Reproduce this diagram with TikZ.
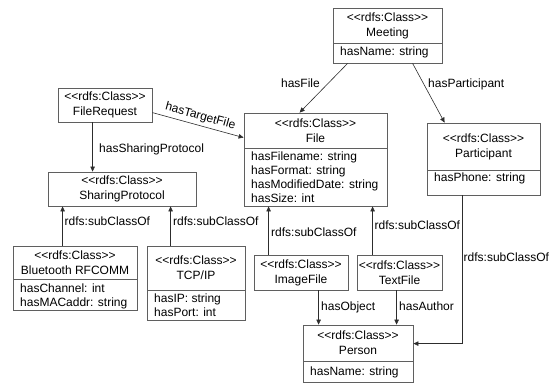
\documentclass[tikz,border=0pt]{standalone}
\usepackage{fontspec}
\newfontfamily\umlfont{Liberation Sans}
\usetikzlibrary{arrows.meta,calc,fit}

\definecolor{boxgray}{RGB}{95,95,95}
\definecolor{conngray}{RGB}{45,45,45}

\tikzset{
  clsbox/.style={draw=boxgray, line width=0.8pt, inner sep=0pt},
  sepline/.style={draw=boxgray, line width=0.8pt},
  hdr/.style={font=\umlfont\fontsize{12}{15}\selectfont, align=center, inner sep=0pt},
  attr/.style={font=\umlfont\fontsize{12}{14}\selectfont, anchor=base west, inner sep=0pt},
  conn/.style={draw=conngray, line width=0.6pt, -{Triangle[length=5pt,width=4.5pt]}},
  lbl/.style={font=\umlfont\fontsize{12}{14}\selectfont, inner sep=0pt},
}

% class box with a header and an attribute compartment:
% name, left, top, right, bottom, separator y, first attribute baseline, class name, attributes
\newcommand{\umlclass}[9]{%
  \node[clsbox, fit={(#2,#3) (#4,#5)}] (#1) {};
  \draw[sepline] (#2,#6) -- (#4,#6);
  \node[hdr] (#1-title) at ({(#2+#4)/2},{(#3+#6)/2}) {<{}<rdfs:Class>{}>\\#8};
  \foreach \attrline [count=\n] in {#9} {
    \node[attr] (#1-attr-\n) at ({#2+7},{#7+14*(\n-1)}) {\attrline};
  }%
}
% class box with a header only: name, left, top, right, bottom, class name
\newcommand{\umlplain}[6]{%
  \node[clsbox, fit={(#2,#3) (#4,#5)}] (#1) {};
  \node[hdr] (#1-title) at ({(#2+#4)/2},{(#3+#5)/2}) {<{}<rdfs:Class>{}>\\#6};
}

\begin{document}
\begin{tikzpicture}[x=1pt,y=-1pt]
\useasboundingbox (0,0) rectangle (553,383);

% classes
\umlclass{meeting}{333}{8}{442}{63}{43}{55.5}{Meeting}{hasName: string}
\umlplain{filerequest}{58}{88}{152}{122}{FileRequest}
\umlclass{file}{244}{113}{387}{206}{148}{160}{File}{hasFilename: string, hasFormat: string, hasModifiedDate: string, hasSize: int}
\umlplain{sharing}{48}{172}{196}{206}{SharingProtocol}
\umlclass{participant}{427}{123}{540}{195}{170}{181}{Participant}{hasPhone: string}
\umlclass{bluetooth}{13}{246}{137}{310}{279}{292}{Bluetooth RFCOMM}{hasChannel: int, hasMACaddr: string}
\umlclass{tcpip}{147}{246}{245}{320}{290}{302}{TCP/IP}{hasIP: string, hasPort: int}
\umlplain{imagefile}{254}{255}{348}{290}{ImageFile}
\umlplain{textfile}{357}{255}{442}{290}{TextFile}
\umlclass{person}{303}{325}{413}{382}{361}{375}{Person}{hasName: string}

% properties
\draw[conn] ($(meeting.south west)+(15,0)$) -- ($(file.north west)+(56,0)$);
\node[lbl, anchor=base east] (l-hasfile) at (320,87.5) {hasFile};

\draw[conn] ($(meeting.south west)+(80,0)$) -- ($(participant.north west)+(18,0)$);
\node[lbl, anchor=base west] (l-haspart) at (428,87.5) {hasParticipant};

\draw[conn] ($(filerequest.north east)+(0,25)$) -- node[lbl, sloped, above, inner sep=3pt] (l-target) {hasTargetFile} ($(file.north west)+(0,25)$);

\draw[conn] ($(filerequest.south west)+(35,0)$) -- ($(sharing.north west)+(45,0)$);
\node[lbl, anchor=base west] (l-sharing) at (99,152.5) {hasSharingProtocol};

\draw[conn] ($(imagefile.south west)+(65,0)$) -- ($(person.north west)+(16,0)$);
\node[lbl, anchor=base west] (l-object) at (321,310.5) {hasObject};

\draw[conn] ($(textfile.south west)+(40,0)$) -- ($(person.north west)+(94,0)$);
\node[lbl, anchor=base west] (l-author) at (399,310.5) {hasAuthor};

% subclass relations
\draw[conn] ($(bluetooth.north west)+(50,0)$) -- ($(sharing.south west)+(15,0)$);
\node[lbl, anchor=base west] (l-sub-bt) at (64.5,225.5) {rdfs:subClassOf};

\draw[conn] ($(tcpip.north west)+(24,0)$) -- ($(sharing.south west)+(123,0)$);
\node[lbl, anchor=base west] (l-sub-tcp) at (173,225.5) {rdfs:subClassOf};

\draw[conn] ($(imagefile.north west)+(15,0)$) -- ($(file.south west)+(25,0)$);
\node[lbl, anchor=base west] (l-sub-img) at (271,236) {rdfs:subClassOf};

\draw[conn] ($(textfile.north west)+(16,0)$) -- ($(file.south west)+(129,0)$);
\node[lbl, anchor=base west] (l-sub-txt) at (374.5,229) {rdfs:subClassOf};

\draw[conn] ($(participant.south west)+(36,0)$) |- ($(person.north east)+(0,19)$);
\node[lbl, anchor=base west] (l-sub-part) at (463.5,261.5) {rdfs:subClassOf};
\end{tikzpicture}
\end{document}
